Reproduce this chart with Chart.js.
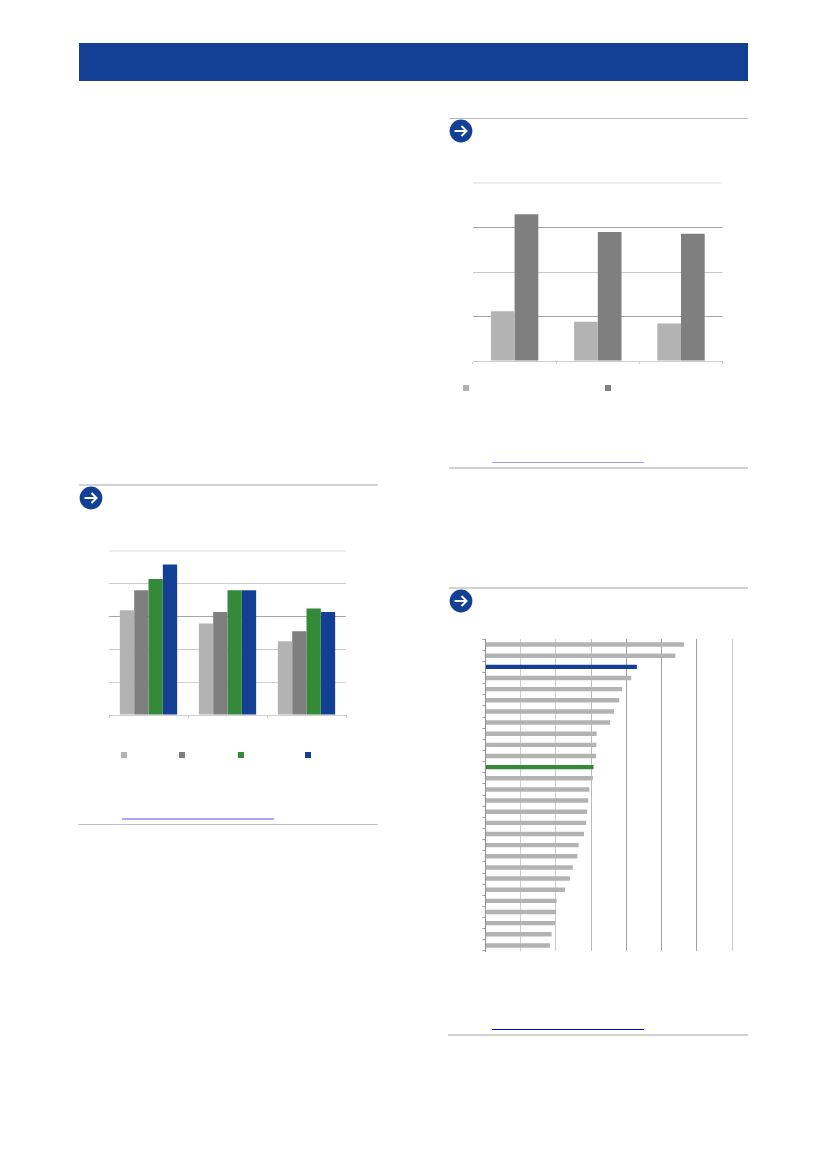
<!DOCTYPE html>
<html>
<head>
<meta charset="utf-8">
<title>Charts</title>
<script src="https://cdn.jsdelivr.net/npm/chart.js@4/dist/chart.umd.min.js"></script>
<style>
html, body { margin: 0; padding: 0; background: #fff; }
body { position: relative; width: 826px; height: 1169px; overflow: hidden; }
.box { position: absolute; }
canvas { position: absolute; display: block; }
.rule { position: absolute; height: 2px; background: #d2d2d2; }
.key { position: absolute; width: 6px; height: 6px; }
.arrow { position: absolute; width: 24px; height: 24px; }
</style>
</head>
<body>
<div class="box" style="left:79px;top:43px;width:669px;height:38px;background:#134094"></div>

<div class="rule" style="left:79px;top:484px;width:299px"></div>
<div class="rule" style="left:78px;top:824px;width:300px;height:1px;background:#c0c0c0"></div>
<div class="rule" style="left:449px;top:118px;width:299px;height:1px;background:#b8b8b8"></div>
<div class="rule" style="left:449px;top:467px;width:299px"></div>
<div class="rule" style="left:449px;top:587px;width:299px"></div>
<div class="rule" style="left:448px;top:1034px;width:300px"></div>

<div class="rule" style="left:122px;top:818px;width:152px;background:#a8a8f8"></div>
<div class="rule" style="left:492px;top:462px;width:152px;height:1px;background:#9c9cf8"></div>
<div class="rule" style="left:492px;top:1029px;width:152px;height:1px;background:#0000cc"></div>

<svg class="arrow" style="left:79px;top:486px" viewBox="0 0 24 24"><use href="#go"/></svg>
<svg class="arrow" style="left:449px;top:119px" viewBox="0 0 24 24"><use href="#go"/></svg>
<svg class="arrow" style="left:449px;top:589px" viewBox="0 0 24 24"><use href="#go"/></svg>
<svg width="0" height="0" style="position:absolute">
  <symbol id="go" viewBox="0 0 24 24">
    <circle cx="12" cy="12" r="11.4" fill="#134094"/>
    <path d="M5.5 12H17.5M12.5 7L17.5 12L12.5 17" fill="none" stroke="#fff" stroke-width="2"/>
  </symbol>
</svg>

<canvas id="chartSectors" style="left:99px;top:549px" width="250" height="176"></canvas>
<canvas id="chartGender" style="left:463px;top:181px" width="262" height="190"></canvas>
<canvas id="chartCountries" style="left:475px;top:637px" width="259" height="324"></canvas>

<div class="key" style="left:121px;top:752px;background:#b3b3b3"></div>
<div class="key" style="left:179px;top:752px;background:#7f7f7f"></div>
<div class="key" style="left:238px;top:752px;background:#348a38"></div>
<div class="key" style="left:305px;top:752px;background:#134094"></div>
<div class="key" style="left:463px;top:385px;background:#b3b3b3"></div>
<div class="key" style="left:605px;top:385px;background:#7f7f7f"></div>

<script>
const GRAY = '#b3b3b3';
const DARK = '#7f7f7f';
const GREEN = '#348a38';
const BLUE = '#134094';

// first chart
const sectorGroups = ['Group 1', 'Group 2', 'Group 3'];
const seriesA = [3.19, 2.79, 2.25];
const seriesB = [3.80, 3.14, 2.55];
const seriesC = [4.15, 3.80, 3.25];
const seriesD = [4.59, 3.80, 3.14];
const sectorTicks = [0, 1, 2, 3, 4, 5];

// second chart
const genderGroups = ['Group 1', 'Group 2', 'Group 3'];
const lowValues = [1.12, 0.88, 0.84];
const highValues = [3.30, 2.90, 2.86];
const genderTicks = [0, 1, 2, 3, 4];

// third chart
const countries = [
    'C01', 'C02', 'C03', 'C04', 'C05', 'C06', 'C07', 'C08', 'C09', 'C10',
    'C11', 'C12', 'C13', 'C14', 'C15', 'C16', 'C17', 'C18', 'C19', 'C20',
    'C21', 'C22', 'C23', 'C24', 'C25', 'C26', 'C27', 'C28'
];
const countryValues = [
    5.64, 5.39, 4.30, 4.14, 3.88, 3.80, 3.65, 3.54, 3.16, 3.15,
    3.14, 3.07, 3.05, 2.95, 2.92, 2.89, 2.86, 2.80, 2.65, 2.61,
    2.48, 2.40, 2.26, 2.02, 2.01, 1.98, 1.88, 1.83
];
const blueCountry = 'C03';
const greenCountry = 'C12';
const countryTicks = [0, 1, 2, 3, 4, 5, 6, 7];

Chart.defaults.animation = false;
Chart.defaults.responsive = false;
Chart.defaults.devicePixelRatio = 1;
Chart.defaults.plugins.legend.display = false;
Chart.defaults.plugins.tooltip.enabled = false;

// axis box sizes are fixed so the plot areas land where the reference has them
function fixHeight(h) {
    return scale => { scale.height = h; };
}
function fixWidth(w) {
    return scale => { scale.width = w; };
}

function columnOptions(maxValue, ticks, gridColors, padding) {
    return {
        layout: { padding: padding },
        scales: {
            x: {
                grid: { offset: true, drawOnChartArea: false, color: '#cfcfcf', tickLength: 3 },
                border: { color: '#cfcfcf' },
                ticks: { display: false },
                afterFit: fixHeight(10)
            },
            y: {
                min: 0,
                max: maxValue,
                afterBuildTicks: scale => { scale.ticks = ticks.map(v => ({ value: v })); },
                grid: {
                    drawTicks: false,
                    color: ctx => gridColors[ctx.index],
                    // the top line reads as a wider, paler band in the reference
                    lineWidth: ctx => ctx.index === ticks.length - 1 ? 2 : 1
                },
                border: { display: false },
                ticks: { display: false },
                afterFit: fixWidth(0)
            }
        }
    };
}

new Chart(document.getElementById('chartSectors'), {
    type: 'bar',
    data: {
        labels: sectorGroups,
        datasets: [
            { label: 'A', data: seriesA, backgroundColor: GRAY },
            { label: 'B', data: seriesB, backgroundColor: DARK },
            { label: 'C', data: seriesC, backgroundColor: GREEN },
            { label: 'D', data: seriesD, backgroundColor: BLUE }
        ].map(d => ({ ...d, categoryPercentage: 0.725, barPercentage: 1 }))
    },
    options: columnOptions(5, sectorTicks,
        ['#cfcfcf', '#d2d2d2', '#c8c8c8', '#a6a6a6', '#cccccc', '#eeeeee'],
        { left: 10, right: 3, top: 2, bottom: 0 })
});

new Chart(document.getElementById('chartGender'), {
    type: 'bar',
    data: {
        labels: genderGroups,
        datasets: [
            { label: 'Low', data: lowValues, backgroundColor: GRAY },
            { label: 'High', data: highValues, backgroundColor: DARK }
        ].map(d => ({ ...d, categoryPercentage: 0.57, barPercentage: 1 }))
    },
    options: columnOptions(4, genderTicks,
        ['#cfcfcf', '#a6a6a6', '#c8c8c8', '#a6a6a6', '#eeeeee'],
        { left: 10, right: 2.4, top: 2, bottom: 0 })
});

const countryGridColors = ['#8f8f8f', '#cccccc', '#cccccc', '#bbbbbb', '#a0a0a0', '#a0a0a0', '#a0a0a0', '#cccccc'];

new Chart(document.getElementById('chartCountries'), {
    type: 'bar',
    data: {
        labels: countries,
        datasets: [{
            label: 'Value',
            data: countryValues,
            backgroundColor: countries.map(c => c === blueCountry ? BLUE : c === greenCountry ? GREEN : GRAY),
            categoryPercentage: 0.4,
            barPercentage: 1
        }]
    },
    options: {
        indexAxis: 'y',
        layout: { padding: { left: 0.4, right: 2, top: 2, bottom: 0 } },
        scales: {
            x: {
                min: 0,
                max: 7,
                afterBuildTicks: scale => { scale.ticks = countryTicks.map(v => ({ value: v })); },
                grid: { drawTicks: false, color: ctx => countryGridColors[ctx.index] },
                border: { display: false },
                ticks: { display: false },
                afterFit: fixHeight(10)
            },
            y: {
                grid: { offset: true, drawOnChartArea: false, color: '#a0a0a0', tickLength: 3 },
                border: { color: '#8f8f8f' },
                ticks: { display: false },
                afterFit: fixWidth(10)
            }
        }
    }
});
</script>
</body>
</html>
